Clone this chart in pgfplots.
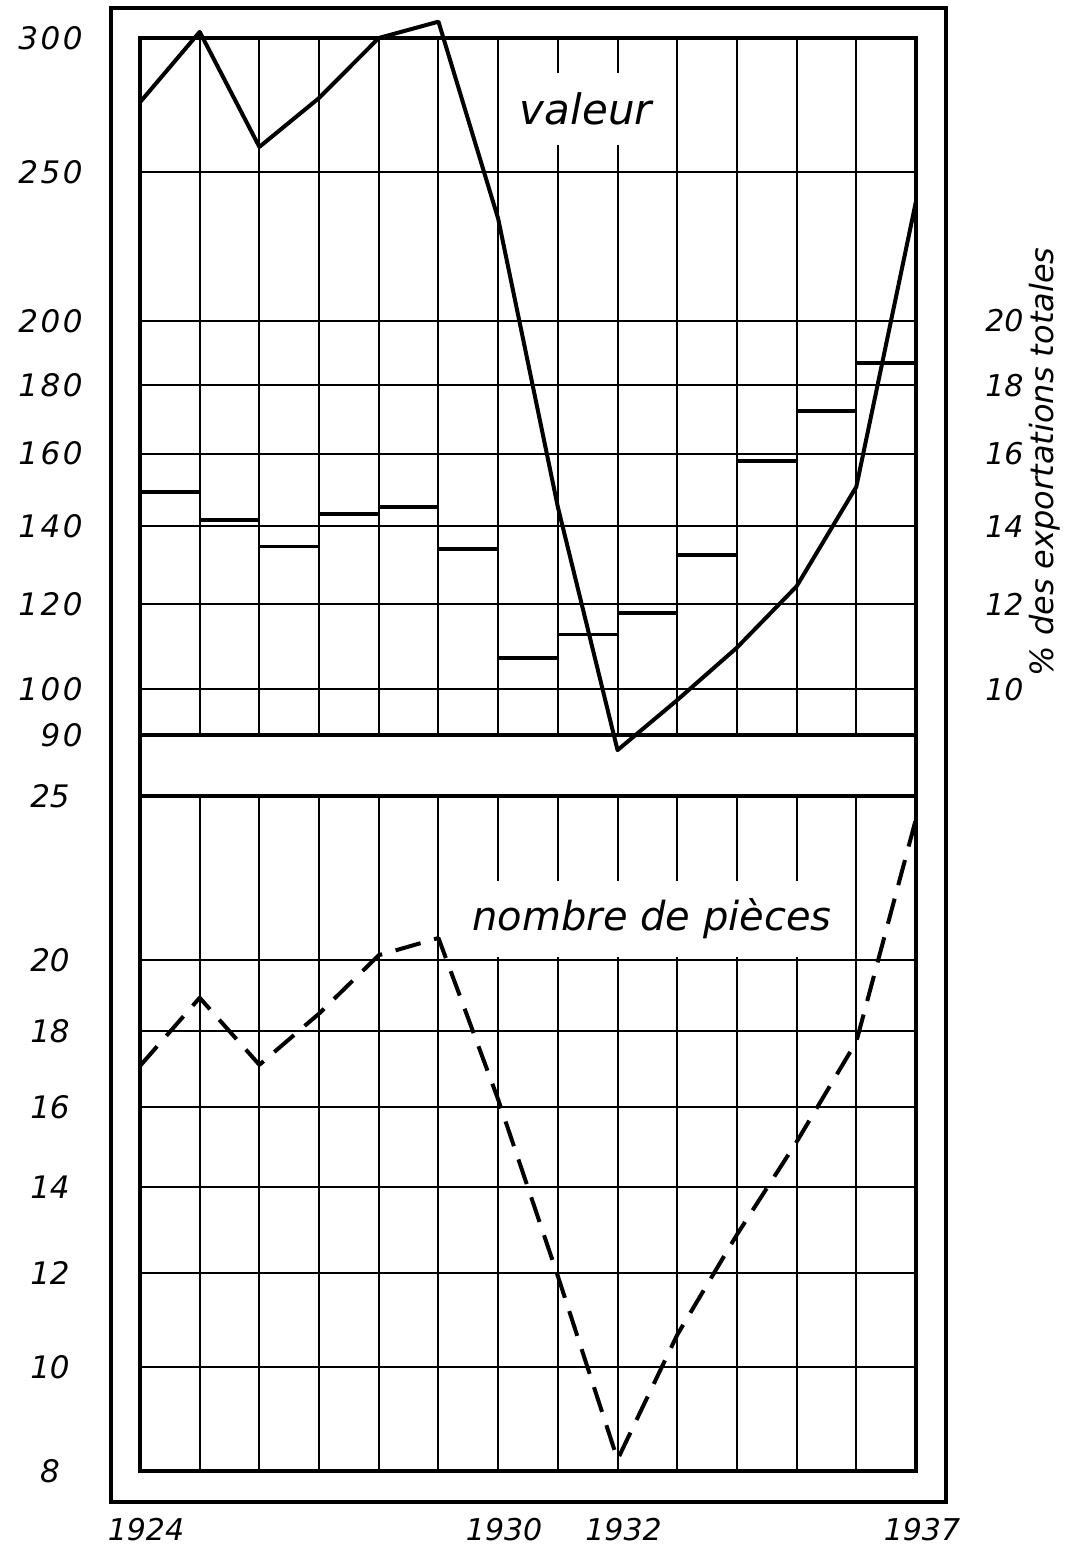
\documentclass[border=0pt]{standalone}
\usepackage{fontspec}
\setmainfont{DejaVu Sans}
\usepackage{pgfplots}
\pgfplotsset{compat=1.18}
\pgfplotsset{
  sqrty/.style={
    y coord trafo/.code={\pgfmathparse{sqrt(##1)}},
    y coord inv trafo/.code={\pgfmathparse{(##1)^2}},
  },
  common/.style={
    sqrty,
    scale only axis,
    width=388pt,
    xmin=1924, xmax=1937,
    xtick={1924,1925,1926,1927,1928,1929,1930,1931,1932,1933,1934,1935,1936,1937},
    grid=major,
    major grid style={black, line width=1pt},
    axis line style={black, line width=1.6pt},
    major tick length=0pt,
    clip=false,
    tick label style={font=\fontsize{15}{18}\selectfont\itshape},
    /pgf/number format/assume math mode=true,
  },
  seg/.style={black, line width=1.9pt},
}
\begin{document}
\begin{tikzpicture}
\useasboundingbox (0,0) rectangle (533pt,774pt);
\fill[white] (0,0) rectangle (533pt,774pt);

% ---------- top panel: valeur ----------
\begin{axis}[common, at={(70pt,406.5pt)}, anchor=south west, height=348.5pt,
  ymin=90, ymax=300,
  ytick={90,100,120,140,160,180,200,250,300},
  yticklabels={90,100,120,140,160,180,200,250,300},
  yticklabel style={anchor=east, inner sep=0pt, xshift=-28.5pt,
                    font=\fontsize{15.5}{18}\selectfont\itshape\addfontfeature{LetterSpace=8}},
  xticklabels={}]
\node[fill=white, inner xsep=5pt, minimum height=36pt,
      font=\fontsize{21}{24}\selectfont\itshape] at (axis cs:1931.47,273) {valeur};
\addplot[black, line width=2pt, line join=round] table {
x y
1924 275.5
1925 302.4
1926 259.1
1927 277.1
1928 300.0
1929 306.4
1930 233.8
1931 145.2
1932 86.8
1933 97.6
1934 109.6
1935 124.5
1936 150.7
1937 239.8
};
% % des exportations totales (x10 on this scale)
\addplot[seg] coordinates {(1924,149.3) (1925,149.3)};
\addplot[seg] coordinates {(1925,141.6) (1926,141.6)};
\addplot[seg] coordinates {(1926,134.7) (1927,134.7)};
\addplot[seg] coordinates {(1927,143.2) (1928,143.2)};
\addplot[seg] coordinates {(1928,145.2) (1929,145.2)};
\addplot[seg] coordinates {(1929,134.1) (1930,134.1)};
\addplot[seg] coordinates {(1930,107.1) (1931,107.1)};
\addplot[seg] coordinates {(1931,112.7) (1932,112.7)};
\addplot[seg] coordinates {(1932,117.8) (1933,117.8)};
\addplot[seg] coordinates {(1933,132.5) (1934,132.5)};
\addplot[seg] coordinates {(1934,158.0) (1935,158.0)};
\addplot[seg] coordinates {(1935,172.4) (1936,172.4)};
\addplot[seg] coordinates {(1936,186.8) (1937,186.8)};
\end{axis}

% ---------- right-hand scale (%) ----------
\begin{axis}[sqrty, scale only axis, width=388pt, height=348.5pt,
  at={(70pt,406.5pt)}, anchor=south west,
  xmin=1924, xmax=1937, ymin=90, ymax=300,
  hide x axis, axis y line*=right, axis line style={draw=none},
  major tick length=0pt,
  ytick={100,120,140,160,180,200},
  yticklabels={10,12,14,16,18,20},
  /pgf/number format/assume math mode=true,
  yticklabel style={anchor=west, inner sep=0pt, xshift=34.5pt,
                    font=\fontsize{15}{18}\selectfont\itshape}]
\addplot[draw=none] coordinates {(1924,100) (1937,200)};
\end{axis}

% ---------- bottom panel: nombre de pieces ----------
\begin{axis}[common, at={(70pt,38.5pt)}, anchor=south west, height=337.5pt,
  ymin=8, ymax=25,
  ytick={8,10,12,14,16,18,20,25},
  yticklabels={8,10,12,14,16,18,20,25},
  yticklabel style={anchor=center, inner sep=0pt, xshift=-45pt,
                    font=\fontsize{15.5}{18}\selectfont\itshape},
  xticklabels={1924,,,,,,1930,,1932,,,,,1937},
  xticklabel style={anchor=north, inner sep=0pt, yshift=-23.5pt, xshift=3pt}]
\node[fill=white, inner xsep=4pt, minimum height=38pt,
      font=\fontsize{20}{24}\selectfont\itshape] at (axis cs:1932.58,21.2) {nombre de pièces};
\addplot[black, line width=2pt, dash pattern=on 13pt off 7pt, line join=round] table {
x y
1924 17.07
1925 18.93
1926 17.10
1927 18.49
1928 20.14
1929 20.64
1930 16.19
1931 11.94
1932 8.21
1933 10.67
1934 12.88
1935 15.11
1936 17.72
1937 24.27
};
\end{axis}

% ---------- frames ----------
\draw[line width=1.6pt] (55.5pt,23pt) rectangle (473pt,770pt);
\draw[line width=1.6pt] (70pt,38.5pt) rectangle (458pt,755pt);

\node[rotate=90, font=\fontsize{16}{18}\selectfont\itshape] at (522.5pt,543pt)
  {\% des exportations totales};
\end{tikzpicture}
\end{document}
